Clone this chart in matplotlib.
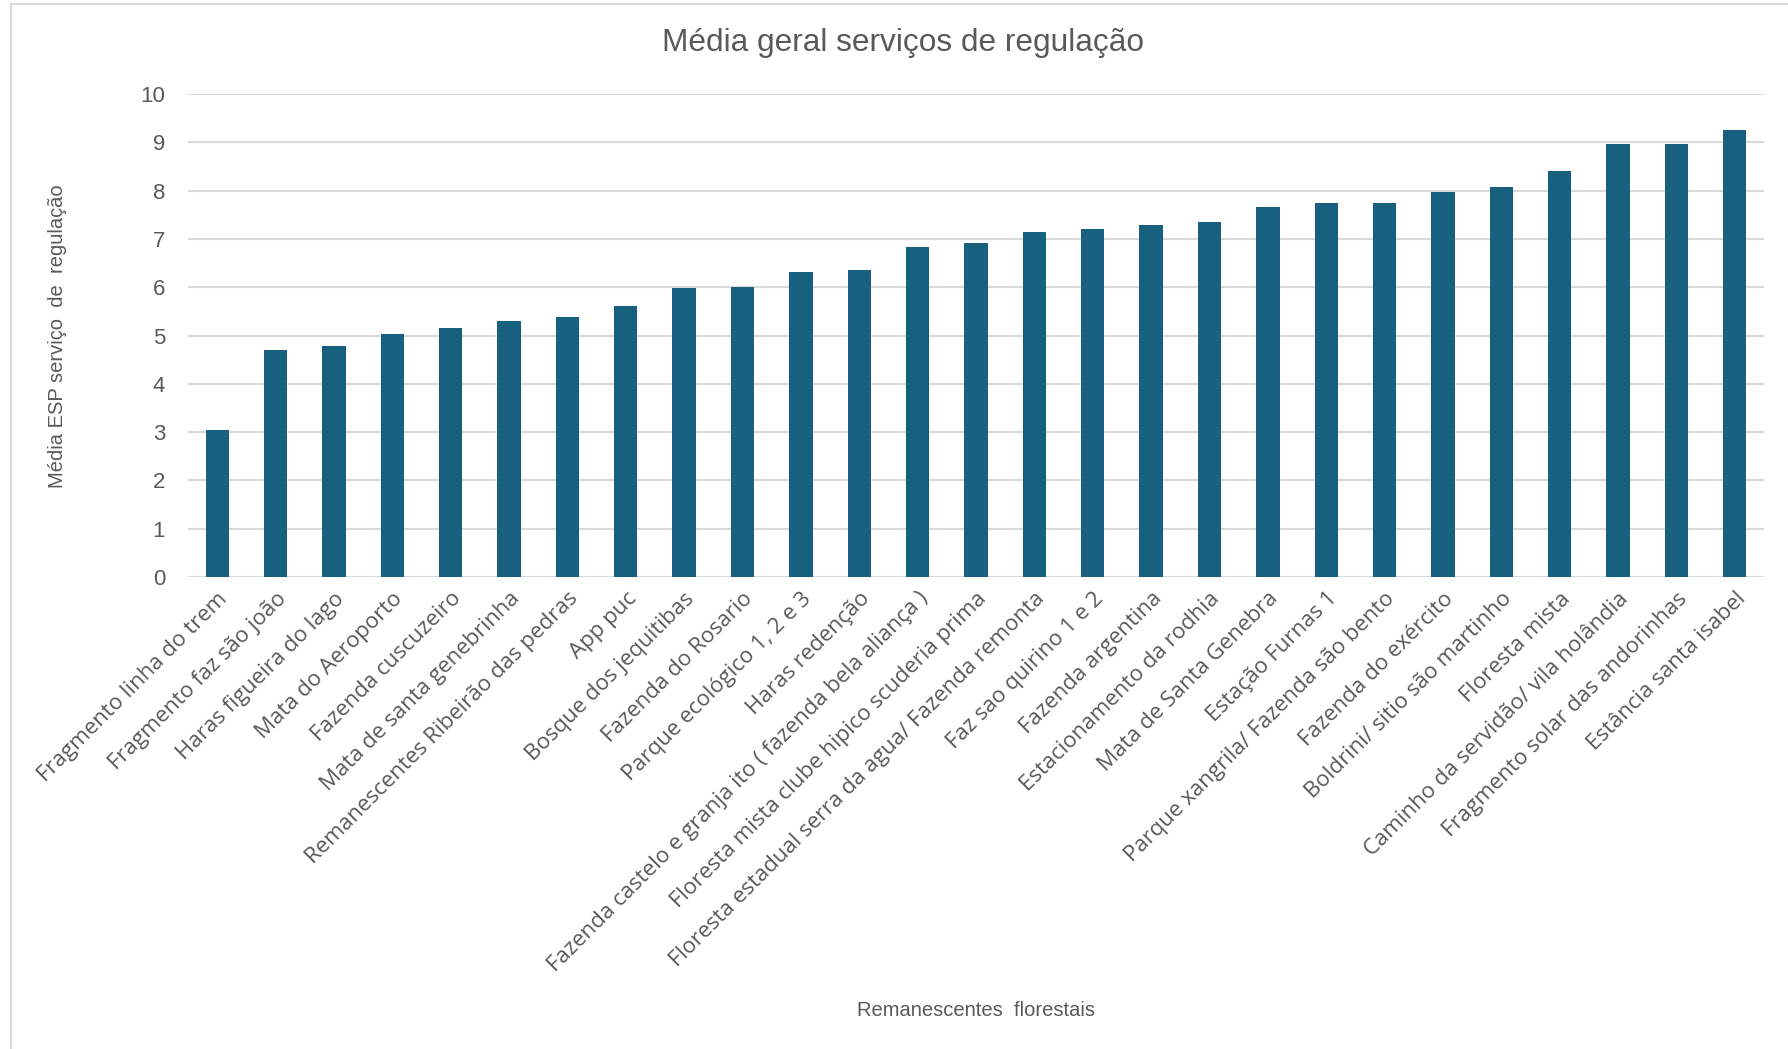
import matplotlib
matplotlib.use("Agg")
import matplotlib.pyplot as plt
from matplotlib.lines import Line2D

# Forest remnants and their mean regulation-service score
remanescentes = [
    "Fragmento linha do trem",
    "Fragmento faz são joão",
    "Haras figueira do lago",
    "Mata do Aeroporto",
    "Fazenda cuscuzeiro",
    "Mata de santa genebrinha",
    "Remanescentes Ribeirão das pedras",
    "App puc",
    "Bosque dos jequitibas",
    "Fazenda do Rosario",
    "Parque ecológico 1, 2 e 3",
    "Haras redenção",
    "Fazenda castelo e granja ito ( fazenda bela aliança )",
    "Floresta mista clube hipico scuderia prima",
    "Floresta estadual serra da agua/ Fazenda remonta",
    "Faz sao quirino 1 e 2",
    "Fazenda argentina",
    "Estacionamento da rodhia",
    "Mata de Santa Genebra",
    "Estação Furnas 1",
    "Parque xangrila/ Fazenda são bento",
    "Fazenda do exército",
    "Boldrini/ sitio são martinho",
    "Floresta mista",
    "Caminho da servidão/ vila holândia",
    "Fragmento solar das andorinhas",
    "Estância santa isabel",
]
media_regulacao = [
    3.05, 4.71, 4.78, 5.04, 5.15, 5.31, 5.38, 5.61, 5.98, 6.01,
    6.31, 6.35, 6.84, 6.91, 7.14, 7.20, 7.28, 7.34, 7.67, 7.74,
    7.74, 7.97, 8.07, 8.40, 8.97, 8.97, 9.26,
]
y_ticks = list(range(0, 11))

BAR = "#17607f"
GRID = "#d9d9d9"
TEXT = "#595959"

W, H, DPI = 1788, 1049, 100
fig = plt.figure(figsize=(W / DPI, H / DPI), dpi=DPI)
fig.patch.set_facecolor("white")

# thin chart-area frame on the left and top
fig.add_artist(Line2D([11 / W, 11 / W], [0, 1 - 4 / H], color=GRID, lw=1.5,
                      transform=fig.transFigure))
fig.add_artist(Line2D([11 / W, 1], [1 - 4 / H, 1 - 4 / H], color=GRID, lw=1.5,
                      transform=fig.transFigure))

left, right = 188 / W, 1764 / W
bottom, top = 1 - 577 / H, 1 - 94 / H
ax = fig.add_axes([left, bottom, right - left, top - bottom])

x = list(range(len(remanescentes)))
ax.bar(x, media_regulacao, width=0.4, color=BAR, zorder=3)

ax.set_xlim(-0.5, len(remanescentes) - 0.5)
ax.set_ylim(0, 10)
ax.set_yticks(y_ticks)
ax.yaxis.grid(True, color=GRID, lw=1.5, zorder=0)
ax.set_axisbelow(True)
for s in ax.spines.values():
    s.set_visible(False)
ax.tick_params(axis="y", length=0, pad=16.5, labelsize=16, labelcolor=TEXT)
ax.tick_params(axis="x", length=0, pad=8, labelcolor=TEXT)
for t in ax.get_yticklabels():
    t.set_fontfamily("Liberation Sans")

ax.set_xticks(x)
ax.set_xticklabels(remanescentes, rotation=45, ha="right", va="top",
                   rotation_mode="anchor", fontsize=16, family="Open Sans",
                   color=TEXT)

fig.text(903 / W, 1 - 43 / H, "Média geral serviços de regulação",
         ha="center", va="center", fontsize=22.8, color=TEXT,
         family="Liberation Sans")
fig.text(58 / W, 1 - 336 / H, "Média ESP serviço  de  regulação",
         ha="center", va="center", rotation=90, fontsize=14.5, color=TEXT,
         family="Liberation Sans")
fig.text(976 / W, 1 - 1010 / H, "Remanescentes  florestais",
         ha="center", va="center", fontsize=14.5, color=TEXT,
         family="Liberation Sans")

fig.savefig("out.png", dpi=DPI, facecolor="white")
